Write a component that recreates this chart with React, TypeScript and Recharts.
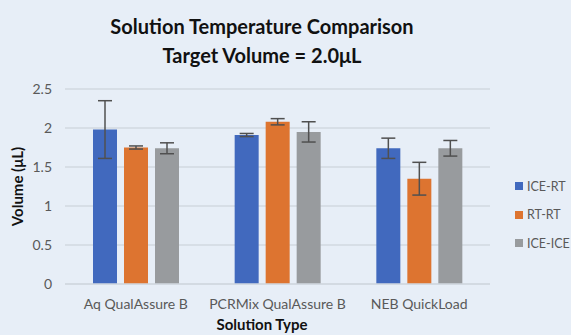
import { BarChart, Bar, XAxis, YAxis, CartesianGrid, Legend, ErrorBar } from 'recharts'

const categories = ['Aq QualAssure B', 'PCRMix QualAssure B', 'NEB QuickLoad']
const iceRt = [1.98, 1.91, 1.74]
const iceRtErr = [0.37, 0.02, 0.13]
const rtRt = [1.75, 2.08, 1.35]
const rtRtErr = [0.02, 0.04, 0.21]
const iceIce = [1.74, 1.95, 1.74]
const iceIceErr = [0.07, 0.13, 0.1]
const yTicks = [0, 0.5, 1, 1.5, 2, 2.5]

const series = [
    { key: 'iceRt', name: 'ICE-RT', color: '#4169BE' },
    { key: 'rtRt', name: 'RT-RT', color: '#DD7430' },
    { key: 'iceIce', name: 'ICE-ICE', color: '#989B9E' },
]

const data = categories.map((name, i) => ({
    name,
    iceRt: iceRt[i],
    iceRtErr: iceRtErr[i],
    rtRt: rtRt[i],
    rtRtErr: rtRtErr[i],
    iceIce: iceIce[i],
    iceIceErr: iceIceErr[i],
}))

const font = 'Lato, "Open Sans", sans-serif'
const textColor = '#595959'
const gridColor = '#D2D8E0'

const renderLegend = () => (
    <div style={{ fontFamily: font, whiteSpace: 'nowrap' }}>
        {series.map((s) => (
            <div key={s.key} style={{ display: 'flex', alignItems: 'center', height: 28.5, fontSize: 12.5, color: textColor }}>
                <span style={{ display: 'inline-block', width: 8, height: 8, background: s.color, marginRight: 4 }} />
                {s.name}
            </div>
        ))}
    </div>
)

export default function App() {
    return (
        <div style={{ position: 'absolute', left: 0, top: 0, width: 571, height: 335, background: '#E7EEF7', fontFamily: font }}>
            <div style={{ position: 'absolute', left: 0, width: 524, top: 12, textAlign: 'center', fontWeight: 700, fontSize: 20, lineHeight: '29px', color: '#111' }}>
                <div>Solution Temperature Comparison</div>
                <div>Target Volume = 2.0μL</div>
            </div>
            <BarChart
                width={571}
                height={335}
                data={data}
                margin={{ top: 89, right: 81, bottom: 0, left: 0 }}
                barSize={24}
                barGap={7}
            >
                <CartesianGrid vertical={false} stroke={gridColor} strokeWidth={1.5} />
                <XAxis
                    dataKey="name"
                    height={51}
                    tickSize={0}
                    tickMargin={15}
                    axisLine={{ stroke: gridColor, strokeWidth: 1.5 }}
                    tick={{ fill: textColor, fontSize: 14, fontFamily: font }}
                    label={{
                        position: 'bottom',
                        content: () => (
                            <text x={262} y={326} textAnchor="middle" dominantBaseline="middle" fontWeight={700} fontSize={15} fill="#111" fontFamily={font}>
                                Solution Type
                            </text>
                        ),
                    }}
                />
                <YAxis
                    width={65}
                    domain={[0, 2.5]}
                    ticks={yTicks}
                    tickSize={0}
                    tickMargin={13}
                    axisLine={false}
                    tick={{ fill: textColor, fontSize: 14, fontFamily: font }}
                    label={{
                        position: 'insideLeft',
                        content: (p: any) => {
                            const cy = p.viewBox.y + p.viewBox.height / 2
                            return (
                                <text x={19} y={cy} transform={`rotate(-90 19 ${cy})`} textAnchor="middle" dominantBaseline="middle" fontWeight={700} fontSize={15} fill="#111" fontFamily={font}>
                                    Volume (μL)
                                </text>
                            )
                        },
                    }}
                />
                <Legend
                    layout="vertical"
                    align="center"
                    verticalAlign="middle"
                    content={renderLegend}
                    wrapperStyle={{ left: 515, top: 172, width: 'auto' }}
                />
                {series.map((s) => (
                    <Bar key={s.key} dataKey={s.key} name={s.name} fill={s.color} isAnimationActive={false}>
                        <ErrorBar dataKey={s.key + 'Err'} width={7} stroke="#505050" strokeWidth={1.5} />
                    </Bar>
                ))}
            </BarChart>
        </div>
    )
}
